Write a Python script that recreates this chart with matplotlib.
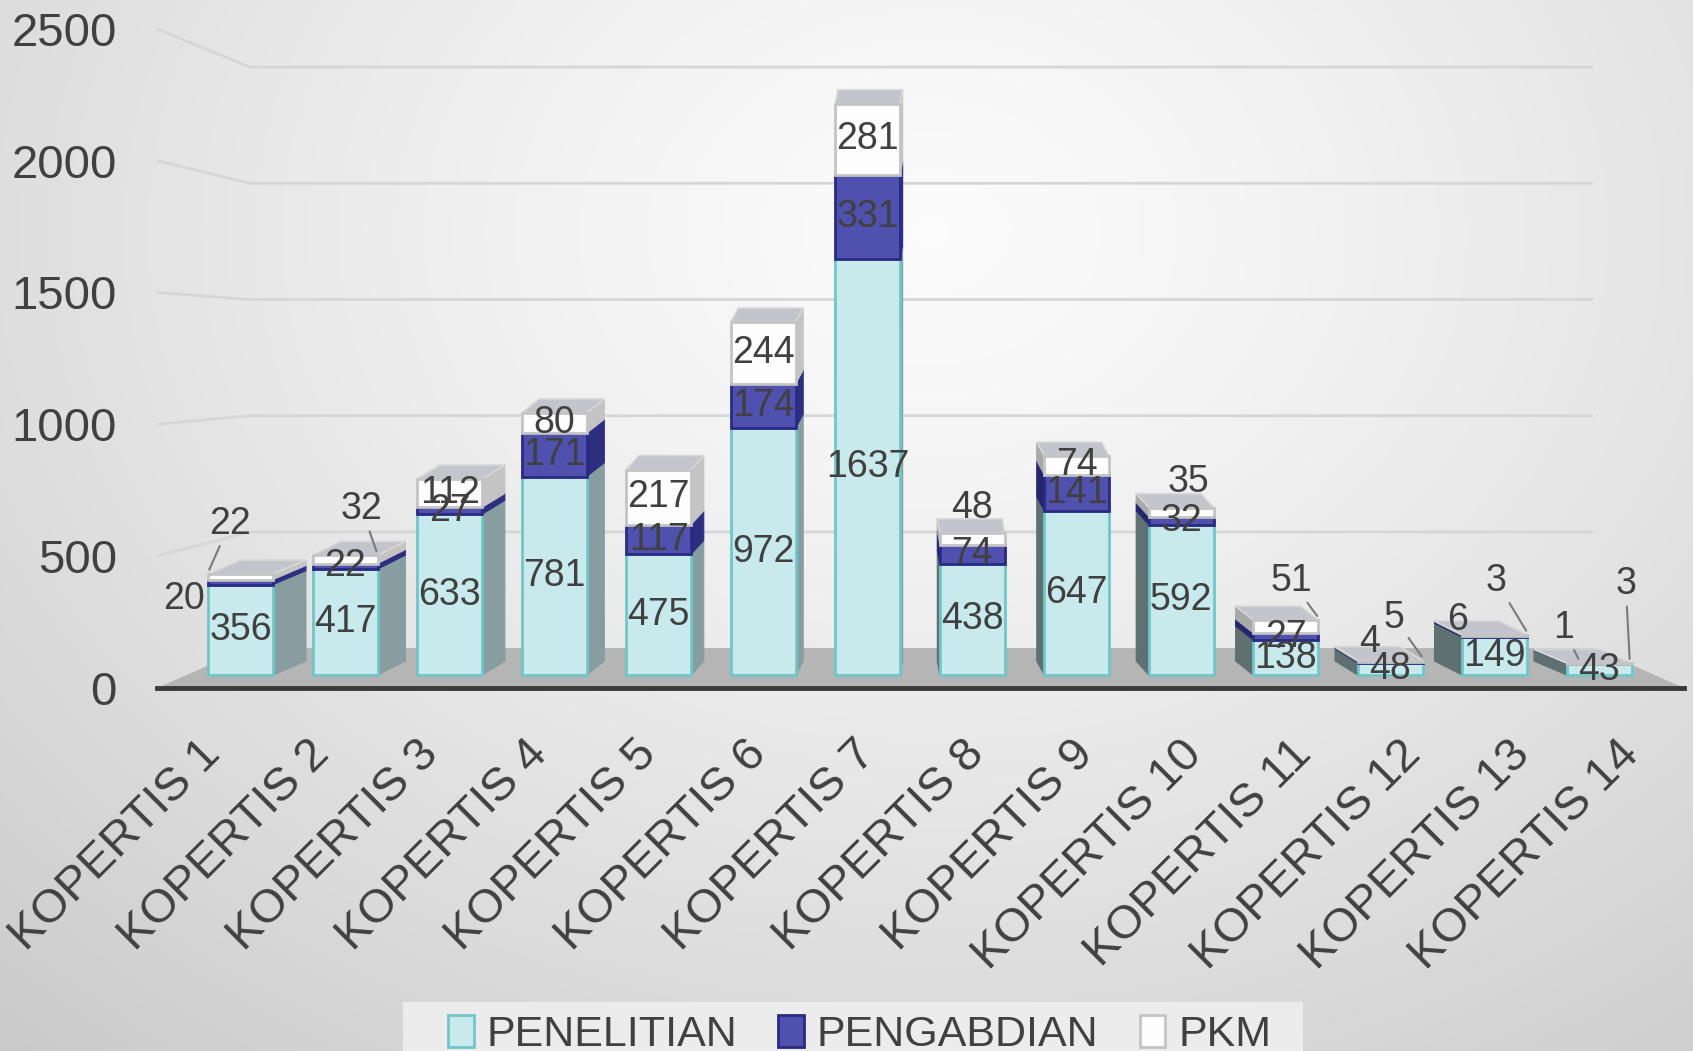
import numpy as np
import matplotlib
matplotlib.use('Agg')
import matplotlib.pyplot as plt
from matplotlib.patches import Polygon, Patch, Rectangle
from matplotlib.transforms import ScaledTranslation

# ---------------- data ----------------
categories = ['KOPERTIS 1', 'KOPERTIS 2', 'KOPERTIS 3', 'KOPERTIS 4', 'KOPERTIS 5',
              'KOPERTIS 6', 'KOPERTIS 7', 'KOPERTIS 8', 'KOPERTIS 9', 'KOPERTIS 10',
              'KOPERTIS 11', 'KOPERTIS 12', 'KOPERTIS 13', 'KOPERTIS 14']
penelitian = [356, 417, 633, 781, 475, 972, 1637, 438, 647, 592, 138, 48, 149, 43]
pengabdian = [20, 22, 27, 171, 117, 174, 331, 74, 141, 32, 27, 4, 6, 1]
pkm = [22, 32, 112, 80, 217, 244, 281, 48, 74, 35, 51, 5, 3, 3]
series_names = ['PENELITIAN', 'PENGABDIAN', 'PKM']
y_ticks = [0, 500, 1000, 1500, 2000, 2500]

# ---------------- style ----------------
plt.rcParams['font.family'] = ['Liberation Sans', 'DejaVu Sans']
TXT = '#404040'
front_colors = ['#c8eaec', '#5050ae', '#fdfdfd']
edge_colors = ['#70c6ca', '#2a2a85', '#c4c4c4']
side_right = ['#879d9f', '#2e2e80', '#c4c4c4']
side_left = ['#5e7070', '#25256e', '#a9a9a9']
top_color = '#c4c4cc'
bar_w = 0.62
vanish_x = 6.5
depth_k = 0.0485
rise = 55

fig = plt.figure(figsize=(16.93, 10.51), dpi=100)

# background radial gradient
bg = fig.add_axes([0, 0, 1, 1], zorder=-5)
gx, gy = np.meshgrid(np.linspace(0, 1, 400), np.linspace(0, 1, 300))
d = np.sqrt(((gx - 0.55) / 0.75) ** 2 + ((gy - 0.22) / 0.95) ** 2)
val = 0.985 - 0.17 * np.clip(d, 0, 1.2) ** 1.3
bg.imshow(np.dstack([val, val, val]), extent=[0, 1, 0, 1], origin='upper', aspect='auto')
bg.axis('off')

ax = fig.add_axes([0.09274, 0.34539, 0.90194, 0.64072], zorder=1)
ax.set_facecolor('none')
ax.set_xlim(-0.8, 13.81)
ax.set_ylim(-51, 2600)

# back wall gridlines (perspective)
lab_y0, lab_k = -51, 1.038
back_y0, back_k = 106, 0.915
for v in y_ticks[1:]:
    ax.plot([-0.80, 0.086, 12.94], [lab_y0 + lab_k * v, back_y0 + back_k * v, back_y0 + back_k * v],
            color='#d6d6d6', lw=2, zorder=0.5, solid_capstyle='butt')

# floor
ax.add_patch(Polygon([(-0.80, -51), (13.81, -51), (12.95, 106), (0.067, 106)],
                     closed=True, facecolor='#b5b5b5', edgecolor='none', zorder=1))

series = [penelitian, pengabdian, pkm]
n = len(categories)
x = np.arange(n)
bottoms = np.zeros(n)
seg_info = []
for s, vals in enumerate(series):
    vals = np.array(vals, dtype=float)
    ax.bar(x, vals, bar_w, bottom=bottoms, color=front_colors[s], edgecolor=edge_colors[s],
           linewidth=2, zorder=3)
    for i in range(n):
        dx = depth_k * (vanish_x - i)
        xe = i + bar_w / 2 if dx > 0 else i - bar_w / 2
        b, t = bottoms[i], bottoms[i] + vals[i]
        col = side_right[s] if dx > 0 else side_left[s]
        ax.add_patch(Polygon([(xe, b), (xe + dx, b + rise), (xe + dx, t + rise), (xe, t)],
                             closed=True, facecolor=col, edgecolor=col, lw=0.8, zorder=2))
        seg_info.append((s, i, b + vals[i] / 2, vals[i]))
    bottoms = bottoms + vals

totals = bottoms
for i in range(n):
    dx = depth_k * (vanish_x - i)
    x0, x1, T = i - bar_w / 2, i + bar_w / 2, totals[i]
    ax.add_patch(Polygon([(x0, T), (x1, T), (x1 + dx, T + rise), (x0 + dx, T + rise)],
                         closed=True, facecolor=top_color, edgecolor='#d8d8d8', lw=1.2, zorder=2.5))

# data labels
# (series, index): (dx_pt, dy_pt, leader target x-shift or None)
custom = {
    (1, 0): (-41, -12, None),
    (2, 0): (-8, 38, -0.30),
    (2, 1): (12, 36, 0.30),
    (2, 7): (0, 22, None),
    (2, 9): (5, 22, None),
    (2, 10): (4, 33, 0.30),
    (1, 11): (-15, 15, None),
    (2, 11): (3, 31, 0.30),
    (1, 12): (-27, 12, None),
    (2, 12): (1, 39, 0.30),
    (1, 13): (-26, 26, -0.20),
    (2, 13): (19, 57, 0.29),
}
fig.canvas.draw()
to_disp = ax.transData
inv = ax.transData.inverted()
for s, i, mid, v in seg_info:
    label = f'{int(v)}'
    if (s, i) in custom:
        dxp, dyp, tgt = custom[(s, i)]
        cx, cy = to_disp.transform((i, mid))
        tx, ty = inv.transform((cx + dxp * 100 / 72, cy + dyp * 100 / 72))
        if tgt is None:
            ax.text(tx, ty, label, ha='center', va='center', fontsize=27, color=TXT, zorder=6)
        else:
            ax.annotate(label, xy=(i + tgt, totals[i] + rise * 0.3), xytext=(tx, ty),
                        ha='center', va='center', fontsize=27, color=TXT, zorder=6,
                        arrowprops=dict(arrowstyle='-', color='#7a7a7a', lw=1.5,
                                        shrinkA=1, shrinkB=0))
    else:
        ax.text(i, mid, label, ha='center', va='center', fontsize=27, color=TXT, zorder=6)

# axes styling
for sp in ['left', 'right', 'top']:
    ax.spines[sp].set_visible(False)
ax.spines['bottom'].set_color('#3a3a3a')
ax.spines['bottom'].set_linewidth(3.5)
ax.spines['bottom'].set_zorder(1.5)

ax.set_yticks([lab_y0 + lab_k * v for v in y_ticks], labels=[str(v) for v in y_ticks])
ax.tick_params(axis='y', length=0, pad=29, labelsize=34, labelcolor=TXT)
ax.set_xticks(x, labels=categories)
ax.tick_params(axis='x', length=0, pad=43, labelsize=34, labelcolor=TXT)
for i, lab in enumerate(ax.get_xticklabels()):
    lab.set_rotation(45)
    lab.set_ha('right')
    lab.set_va('center')
    lab.set_rotation_mode('anchor')
    shift_px = -27 + 4.6 * i   # perspective spread of the front floor edge
    lab.set_transform(lab.get_transform() + ScaledTranslation(shift_px / 100, 0, fig.dpi_scale_trans))

# legend (background box + legend entries)
fig.patches.append(Rectangle((403 / 1693, 0), 900 / 1693, 49 / 1051, transform=fig.transFigure,
                             facecolor='#ececec', edgecolor='none', zorder=0))
handles = [Patch(facecolor=front_colors[k], edgecolor=edge_colors[k], linewidth=2, label=series_names[k])
           for k in range(3)]
leg = fig.legend(handles=handles, loc='upper center', bbox_to_anchor=(0.5077, 0.0466), ncol=3,
                 fontsize=31, frameon=False, handlelength=0.6, handleheight=0.75, handletextpad=0.3,
                 columnspacing=0.95, borderpad=0.3, borderaxespad=0)
for t in leg.get_texts():
    t.set_color(TXT)

fig.savefig('out.png', dpi=100)
